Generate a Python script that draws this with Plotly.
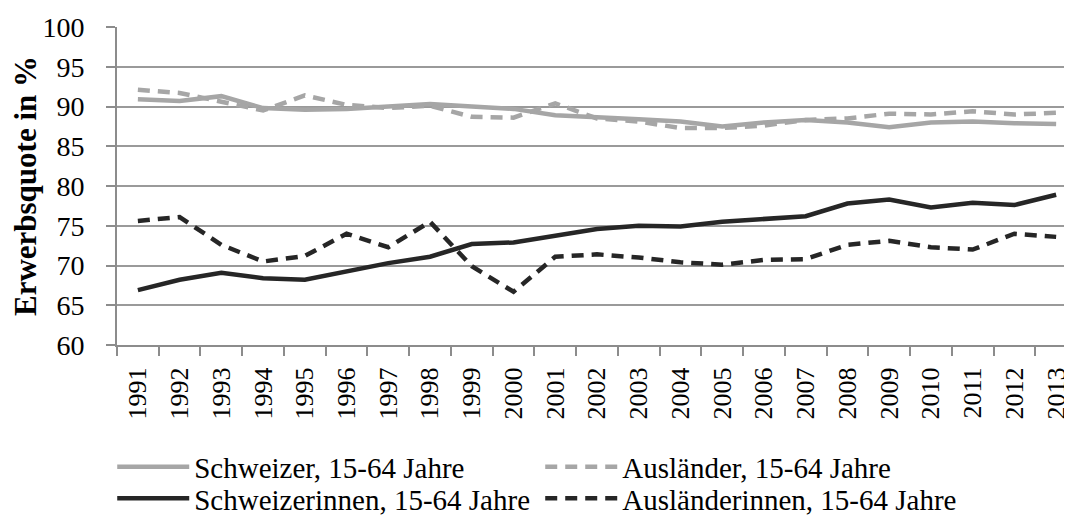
import plotly.graph_objects as go

years = [str(y) for y in range(1991, 2014)]

schweizer = [90.9, 90.7, 91.3, 89.8, 89.6, 89.7, 90.0, 90.3, 90.0, 89.7, 88.9,
             88.7, 88.4, 88.1, 87.5, 88.0, 88.3, 88.0, 87.4, 88.0, 88.1, 87.9, 87.8]
auslaender = [92.1, 91.7, 90.6, 89.5, 91.4, 90.2, 89.8, 90.1, 88.7, 88.6, 90.4,
              88.5, 88.1, 87.3, 87.3, 87.6, 88.3, 88.5, 89.1, 89.0, 89.4, 89.0, 89.2]
schweizerinnen = [66.9, 68.2, 69.1, 68.4, 68.2, 69.2, 70.3, 71.1, 72.7, 72.9, 73.7,
                  74.6, 75.0, 74.9, 75.5, 75.8, 76.2, 77.8, 78.3, 77.3, 77.9, 77.6, 78.9]
auslaenderinnen = [75.6, 76.1, 72.6, 70.5, 71.2, 74.0, 72.3, 75.5, 69.9, 66.7, 71.1,
                   71.4, 71.0, 70.4, 70.1, 70.7, 70.8, 72.6, 73.1, 72.3, 72.0, 74.0, 73.6]

names = ["Schweizer, 15-64 Jahre", "Ausländer, 15-64 Jahre",
         "Schweizerinnen, 15-64 Jahre", "Ausländerinnen, 15-64 Jahre"]
series = [schweizer, auslaender, schweizerinnen, auslaenderinnen]
colors = ["#A6A6A6", "#A6A6A6", "#262626", "#262626"]
dashes = ["solid", "12px,8px", "solid", "12px,8px"]
legend_ids = ["legend", "legend", "legend2", "legend2"]

FONT = "Liberation Serif, Times New Roman, serif"

fig = go.Figure()
for name, vals, col, d, lg in zip(names, series, colors, dashes, legend_ids):
    fig.add_trace(go.Scatter(
        x=years, y=vals, name=name, mode="lines",
        line=dict(color=col, width=4.5, dash=d), legend=lg,
    ))

legend_common = dict(
    orientation="h", x=-0.005, xanchor="left",
    entrywidth=341, entrywidthmode="pixels",
    font=dict(family=FONT, size=29, color="black"),
    itemwidth=72, tracegroupgap=0, traceorder="normal",
    bgcolor="rgba(0,0,0,0)",
)

# the page body has an 8px margin: the figure is sized to fit the 1072x524 window
fig.update_layout(
    width=1064, height=516,
    margin=dict(l=109, r=0, t=19, b=179),
    paper_bgcolor="white", plot_bgcolor="white",
    font=dict(family=FONT, size=28, color="black"),
    showlegend=True,
    legend=dict(legend_common, y=-0.3836, yanchor="middle"),
    legend2=dict(legend_common, y=-0.563, yanchor="bottom"),
)

fig.update_xaxes(
    type="category", range=[-0.5, 22.38],
    tickson="boundaries", ticks="outside", ticklen=9, tickwidth=1.5, tickcolor="#8C8C8C",
    showline=True, linecolor="#8C8C8C", linewidth=2,
    showgrid=False, tickangle=-90,
    tickfont=dict(family=FONT, size=26, color="black"),
    ticklabelstandoff=10, automargin=False,
)
fig.update_yaxes(
    range=[60, 100], dtick=5, tick0=60,
    ticks="outside", ticklen=9, tickwidth=1.5, tickcolor="#8C8C8C",
    showline=True, linecolor="#8C8C8C", linewidth=2,
    showgrid=True, gridcolor="#9A9A9A", gridwidth=1.5,
    zeroline=False,
    tickfont=dict(family=FONT, size=28, color="black"),
    ticklabelstandoff=16,
    title=dict(text="<b>Erwerbsquote in %</b>", font=dict(family=FONT, size=31, color="black"),
               standoff=6),
    automargin=False,
)

fig.write_html("out.html")
